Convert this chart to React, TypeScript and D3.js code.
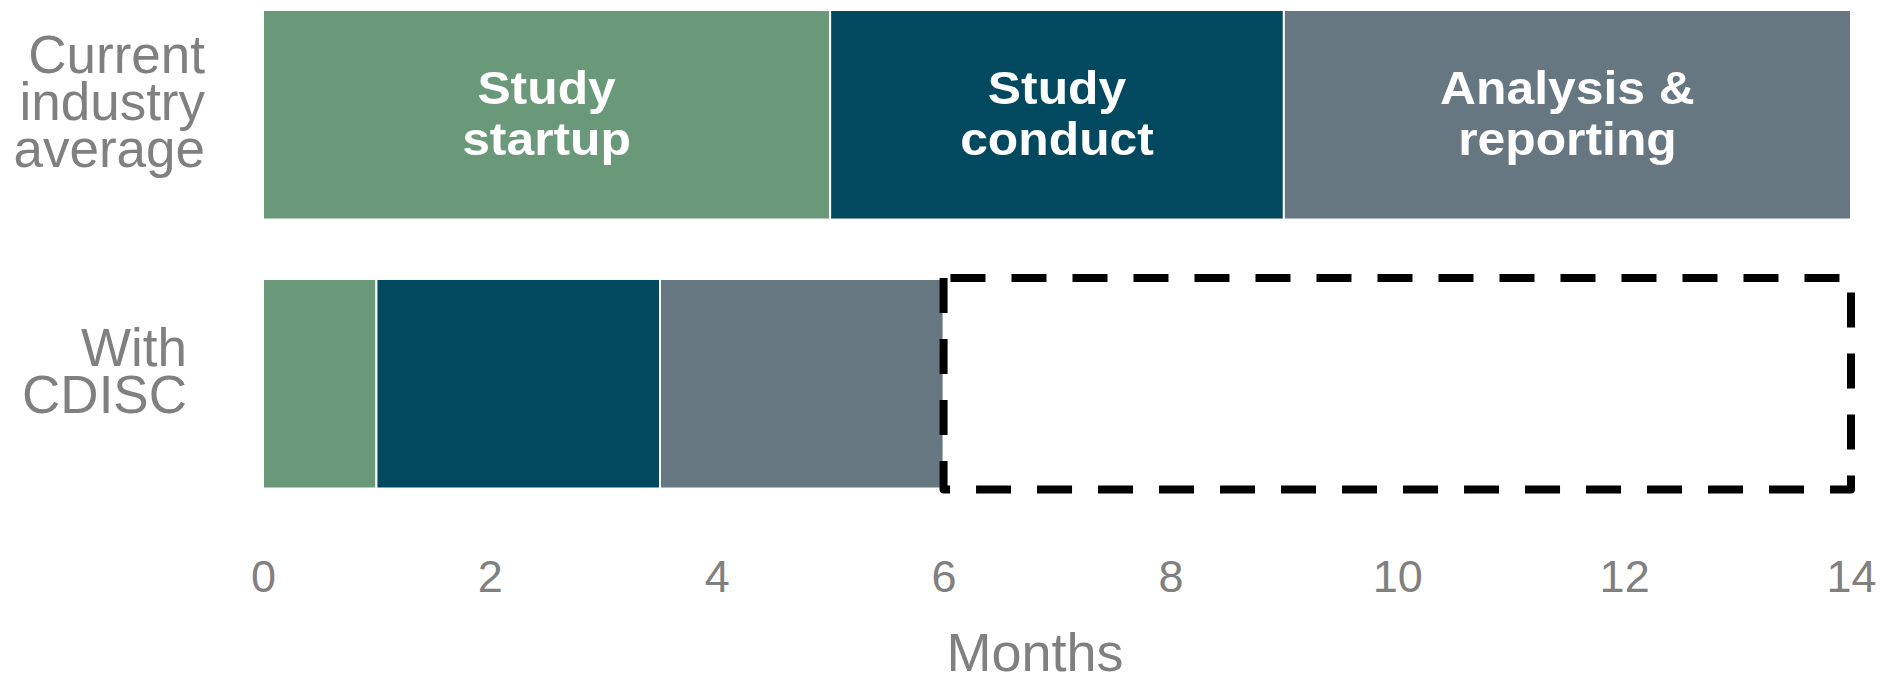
import { useEffect, useRef } from "react";
import * as d3 from "d3";

// rows (left labels, split into lines)
const rows = ["Current industry average", "With CDISC"];
const rowLines = [["Current", "industry", "average"], ["With", "CDISC"]];

// phases of a study, in months
const phases = ["Study startup", "Study conduct", "Analysis & reporting"];
const phaseLines = [["Study", "startup"], ["Study", "conduct"], ["Analysis &", "reporting"]];
const currentMonths = [5, 4, 5];
const cdiscMonths = [1, 2.5, 2.5];
const rowValues = [currentMonths, cdiscMonths];

// time saved box (months)
const savedFrom = 6;
const savedTo = 14;

const xTicks = [0, 2, 4, 6, 8, 10, 12, 14];
const xTitle = "Months";

const colors = ["#6A997A", "#02495F", "#677781"];
const FONT = "'Liberation Sans', Arial, sans-serif";
const GREY = "#808080";

export default function App() {
  const svgRef = useRef<SVGSVGElement>(null);

  useEffect(() => {
    if (!svgRef.current) return;
    const width = 1883;
    const height = 677;

    const svg = d3.select(svgRef.current);
    svg.selectAll("*").remove();
    svg.attr("width", width).attr("height", height);

    const x = d3.scaleLinear().domain([0, 14]).range([263, 1851]);
    const y = d3
      .scaleBand<string>()
      .domain(rows)
      .range([10, 488.5])
      .paddingInner(0.221)
      .paddingOuter(0);

    // stacked segments
    rows.forEach((row, ri) => {
      const vals = rowValues[ri];
      let start = 0;
      vals.forEach((v, pi) => {
        const x0 = x(start);
        const x1 = x(start + v);
        svg
          .append("rect")
          .attr("x", x0)
          .attr("y", y(row)!)
          .attr("width", x1 - x0)
          .attr("height", y.bandwidth())
          .attr("fill", colors[pi])
          .attr("stroke", "#fff")
          .attr("stroke-width", 2);

        // phase labels only on the top bar
        if (ri === 0) {
          const cx = (x0 + x1) / 2;
          const cy = y(row)! + y.bandwidth() / 2;
          const t = svg
            .append("text")
            .attr("transform", `translate(${cx},0) scale(1.06,1)`)
            .attr("text-anchor", "middle")
            .attr("font-family", FONT)
            .attr("font-weight", "bold")
            .attr("font-size", 47)
            .attr("fill", "#fff");
          phaseLines[pi].forEach((line, li) => {
            t.append("tspan")
              .attr("x", 0)
              .attr("y", cy - 11 + li * 51)
              .text(line);
          });
        }
        start += v;
      });
    });

    // dashed box: time saved
    const bx0 = x(savedFrom);
    const bx1 = x(savedTo);
    const by0 = y(rows[1])! - 1;
    const by1 = y(rows[1])! + y.bandwidth() + 1;
    const p = d3.path();
    p.moveTo(bx0, by0);
    p.lineTo(bx0, by1);
    p.lineTo(bx1, by1);
    p.lineTo(bx1, by0);
    p.closePath();
    svg
      .append("path")
      .attr("d", p.toString())
      .attr("fill", "none")
      .attr("stroke", "#000")
      .attr("stroke-width", 8)
      .attr("stroke-dasharray", "35 26")
      .attr("stroke-linejoin", "round");

    // row labels
    const labelInset = [58, 76];
    rows.forEach((row, ri) => {
      const cy = y(row)! + y.bandwidth() / 2;
      const lines = rowLines[ri];
      const t = svg
        .append("text")
        .attr("text-anchor", "end")
        .attr("font-family", FONT)
        .attr("font-size", 53)
        .attr("fill", GREY);
      lines.forEach((line, li) => {
        t.append("tspan")
          .attr("x", x(0) - labelInset[ri])
          .attr("y", cy + 5.5 + (li - (lines.length - 1) / 2) * 47)
          .text(line);
      });
    });

    // x axis labels
    const axis = svg
      .append("g")
      .attr("transform", `translate(0, 592)`)
      .call(
        d3
          .axisBottom(x)
          .tickValues(xTicks)
          .tickSize(0)
          .tickPadding(0)
          .tickFormat((d) => `${d}`),
      );
    axis.select(".domain").remove();
    axis
      .selectAll("text")
      .attr("dy", 0)
      .attr("y", 0)
      .attr("font-family", FONT)
      .attr("font-size", 45)
      .attr("fill", GREY);

    svg
      .append("text")
      .attr("x", (x(0) + x(14)) / 2 - 22)
      .attr("y", 671)
      .attr("text-anchor", "middle")
      .attr("font-family", FONT)
      .attr("font-size", 54)
      .attr("fill", GREY)
      .text(xTitle);
  }, []);

  return (
    <svg
      ref={svgRef}
      style={{ position: "absolute", left: 0, top: 0, display: "block", background: "#fff" }}
    ></svg>
  );
}
